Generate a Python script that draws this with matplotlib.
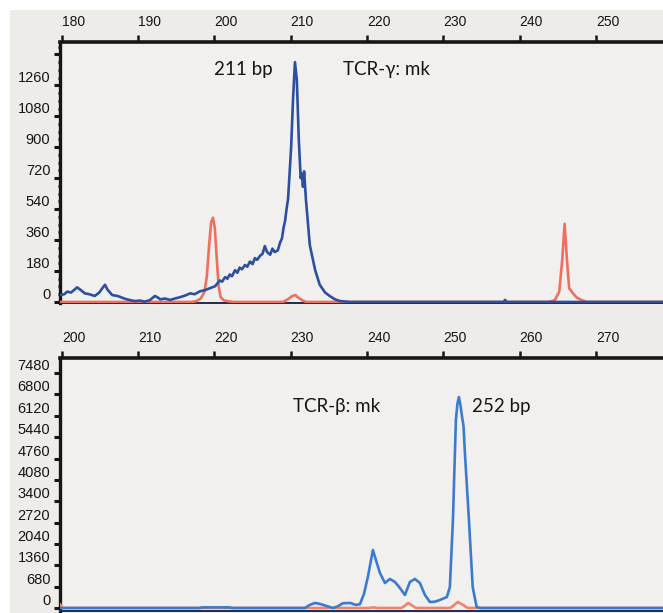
import matplotlib

matplotlib.use("Agg")
import matplotlib.pyplot as plt  # noqa: E402
from matplotlib.patches import Rectangle  # noqa: E402
from matplotlib.ticker import MultipleLocator  # noqa: E402

# --- TCR-gamma panel (size in bp vs. fluorescence) ---
GAMMA_BLUE_BP = [
    179.75, 180.3, 180.7, 181.2, 182.0, 182.6, 183.0, 183.6, 184.3, 184.9,
    185.3, 185.65, 186.0, 186.6, 187.3, 188.3, 189.0, 189.6, 190.2, 190.9,
    191.5, 192.2, 192.6, 192.9, 193.5, 194.2, 194.8, 195.5, 196.2, 196.8,
    197.4, 198.1, 198.7, 199.4, 200.1, 200.5, 200.7, 201.0, 201.4, 201.7,
    202.0, 202.3, 202.7, 203.0, 203.3, 203.6, 204.0, 204.3, 204.65, 205.0,
    205.3, 205.6, 206.0, 206.3, 206.6, 206.9, 207.3, 207.6, 207.9, 208.3,
    208.6, 208.85, 209.05, 209.25, 209.45, 209.65, 209.85, 210.05, 210.3,
    210.55, 210.8, 211.05, 211.3, 211.45, 211.6, 211.75, 212.0, 212.5,
    213.2, 213.8, 214.5, 215.1, 215.8, 216.5, 217.8, 237.9, 238.1, 238.3,
    258.8,
]
GAMMA_BLUE_RFU = [
    40, 45, 60, 55, 85, 65, 50, 45, 35, 55,
    80, 100, 70, 40, 35, 18, 10, 5, 8, 2,
    10, 35, 25, 15, 20, 12, 20, 28, 38, 50,
    45, 62, 68, 80, 92, 115, 125, 118, 145, 135,
    160, 150, 185, 170, 200, 190, 215, 205, 235, 220,
    255, 245, 270, 280, 325, 290, 275, 310, 290, 300,
    345, 370, 430, 470, 540, 600, 750, 900, 1180,
    1395, 1290, 950, 720, 745, 670, 760, 590, 330,
    185, 100, 55, 35, 15, 5, 0, 0, 12, 0,
    0,
]
GAMMA_RED_BP = [
    179.75, 197.0, 197.6, 198.2, 198.7, 199.0, 199.3, 199.55, 199.8, 200.05,
    200.3, 200.55, 200.8, 201.2, 201.7, 202.5, 209.0, 209.6, 210.2, 210.6,
    211.0, 211.5, 212.0, 243.8, 244.6, 245.2, 245.6, 245.9, 246.2, 246.5,
    247.0, 247.5, 248.2, 248.8, 258.8,
]
GAMMA_RED_RFU = [
    0, 0, 5, 20, 60, 150, 330, 460, 490, 430,
    250, 90, 30, 10, 5, 0, 0, 15, 35, 40,
    25, 10, 0, 0, 10, 60, 250, 455, 250, 80,
    50, 25, 10, 0, 0,
]

# --- TCR-beta panel ---
BETA_BLUE_BP = [
    199.75, 218.0, 218.4, 221.9, 222.4, 231.86, 232.5, 233.17, 233.83, 234.74,
    235.53, 236.05, 236.84, 237.76, 238.54, 239.07, 239.6, 240.12, 240.77,
    241.2, 241.69, 242.35, 243.0, 243.66, 244.31, 244.97, 245.62, 246.28,
    246.93, 247.59, 248.24, 248.9, 249.55, 250.47, 250.86, 251.26, 251.52,
    251.65, 251.85, 252.04, 252.25, 252.45, 252.65, 252.83, 253.36, 253.85,
    254.37, 254.9, 278.8,
]
BETA_BLUE_RFU = [
    0, 0, 20, 20, 0, 0, 100, 160, 130, 60,
    0, 40, 150, 160, 100, 120, 450, 1000, 1847,
    1500, 1115, 796, 924, 828, 637, 414, 830, 924,
    796, 414, 191, 200, 255, 350, 670, 2800, 4936,
    5990, 6500, 6720, 6450, 6100, 5800, 4936, 2800, 670,
    30, 0, 0,
]
BETA_RED_BP = [
    199.75, 200.1, 240.3, 240.6, 241.0, 241.3, 244.5, 244.9, 245.4, 245.9,
    246.4, 250.9, 251.4, 251.9, 252.5, 253.2, 278.8,
]
BETA_RED_RFU = [
    120, 0, 0, 15, 15, 0, 0, 60, 160, 80,
    0, 0, 90, 190, 110, 0, 0,
]

GAMMA_XTICKS = [180, 190, 200, 210, 220, 230, 240, 250]
GAMMA_YTICKS = [0, 180, 360, 540, 720, 900, 1080, 1260, 1440]
GAMMA_YLABELS = ["0", "180", "360", "540", "720", "900", "1080", "1260", ""]
BETA_XTICKS = [200, 210, 220, 230, 240, 250, 260, 270]
BETA_YTICKS = [0, 680, 1360, 2040, 2720, 3400, 4080, 4760, 5440, 6120, 6800, 7480]
BETA_YLABELS = [str(v) for v in BETA_YTICKS]

PAPER = "#eeece9"
PANEL = "#f2f0ee"
INK = "#161616"
TICK_FONT = ["Liberation Sans", "DejaVu Sans"]
NOTE_FONT = ["Lato", "DejaVu Sans"]


def style_panel(ax, xticks, yticks, ylabels, minor=None):
    ax.set_facecolor(PANEL)
    ax.xaxis.tick_top()
    ax.set_xticks(xticks)
    ax.set_xticklabels([str(t) for t in xticks], ha="left",
                       family=TICK_FONT, fontsize=10, color=INK)
    ax.tick_params(axis="x", which="major", length=5, width=1.8,
                   pad=4, color=INK)
    ax.set_yticks(yticks)
    ax.set_yticklabels(ylabels, va="bottom", family=TICK_FONT,
                       fontsize=10.5, color=INK)
    ax.tick_params(axis="y", which="major", length=4, width=2.2,
                   pad=3, color=INK)
    if minor:
        ax.yaxis.set_minor_locator(MultipleLocator(minor))
        ax.tick_params(axis="y", which="minor", length=1.6, width=2.0,
                       color=INK)
    ax.spines["right"].set_visible(False)
    ax.spines["top"].set_linewidth(2.6)
    ax.spines["left"].set_linewidth(2.4)
    ax.spines["bottom"].set_linewidth(1.4)
    ax.spines["bottom"].set_color("#1f2b4f")
    for side in ("top", "left"):
        ax.spines[side].set_color(INK)


def main() -> None:
    fig = plt.figure(figsize=(6.63, 6.13), dpi=100)
    fig.patch.set_facecolor("white")
    paper = Rectangle((10 / 663, 0), 653 / 663, 603 / 613,
                      transform=fig.transFigure, facecolor=PAPER,
                      edgecolor="none", zorder=-10)
    fig.add_artist(paper)

    ax1 = fig.add_axes([60 / 663, 310 / 613, 603 / 663, 261 / 613])
    ax1.plot(GAMMA_RED_BP, GAMMA_RED_RFU, color="#ef6f5e", lw=1.9, zorder=3)
    ax1.plot(GAMMA_BLUE_BP, GAMMA_BLUE_RFU, color="#2c4f9f", lw=1.9, zorder=4)
    ax1.set_xlim(179.75, 258.8)
    ax1.set_ylim(-6, 1512)
    style_panel(ax1, GAMMA_XTICKS, GAMMA_YTICKS, GAMMA_YLABELS, minor=45)
    ax1.text(200.0, 1320, "211 bp", family=NOTE_FONT, fontsize=13.5,
             color=INK, va="baseline")
    ax1.text(216.8, 1320, "TCR-\u03b3: mk", family=NOTE_FONT, fontsize=13.5,
             color=INK, va="baseline")

    ax2 = fig.add_axes([60 / 663, 2 / 613, 603 / 663, 253 / 613])
    ax2.plot(BETA_RED_BP, BETA_RED_RFU, color="#f0846a", lw=1.9, zorder=3)
    ax2.plot(BETA_BLUE_BP, BETA_BLUE_RFU, color="#3b7bcf", lw=1.9, zorder=4)
    ax2.set_xlim(199.75, 278.8)
    ax2.set_ylim(-96, 7962)
    style_panel(ax2, BETA_XTICKS, BETA_YTICKS, BETA_YLABELS)
    ax2.text(230.3, 6242, "TCR-\u03b2: mk", family=NOTE_FONT, fontsize=13.5,
             color=INK, va="baseline")
    ax2.text(253.7, 6242, "252 bp", family=NOTE_FONT, fontsize=13.5,
             color=INK, va="baseline")

    fig.savefig("out.png", dpi=100, facecolor=fig.get_facecolor())
    plt.close(fig)


if __name__ == "__main__":
    main()
